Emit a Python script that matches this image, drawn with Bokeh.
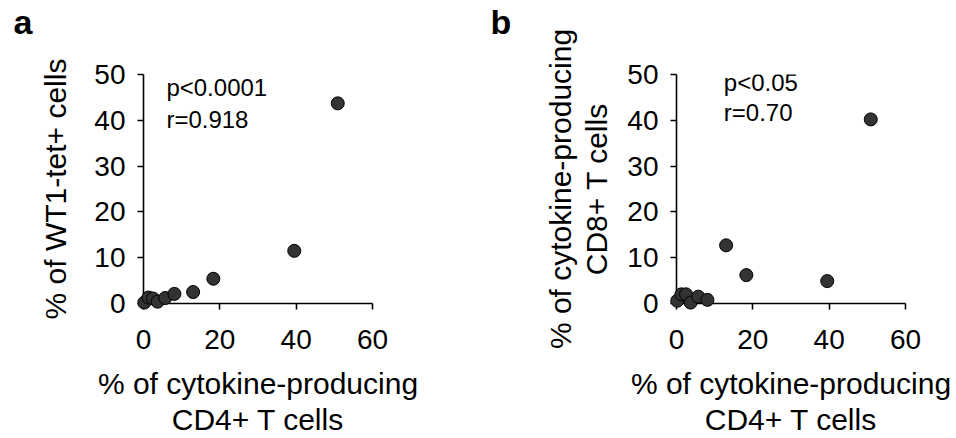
from bokeh.plotting import figure
from bokeh.layouts import row
from bokeh.models import FixedTicker, Label, Title
from bokeh.embed import file_html
from bokeh.resources import INLINE

# ---- data ----
cd4_pct = [0.2, 1.3, 2.5, 3.7, 5.7, 8.1, 13.0, 18.3, 39.5, 50.9]
wt1_tet_pct = [0.2, 1.3, 1.1, 0.4, 1.2, 2.1, 2.5, 5.4, 11.5, 43.7]
cd8_cyto_pct = [0.6, 2.0, 2.0, 0.2, 1.5, 0.8, 12.7, 6.2, 4.9, 40.2]

x_ticks = [0, 20, 40, 60]
y_ticks = [0, 10, 20, 30, 40, 50]

x_title = "% of cytokine-producing\nCD4+ T cells"
y_title_a = "% of WT1-tet+ cells"
y_title_b = "% of cytokine-producing\nCD8+ T cells"
stats_a = ["p<0.0001", "r=0.918"]
stats_b = ["p<0.05", "r=0.70"]

FONT = "Liberation Sans"
FRAME_W = 229
FRAME_H = 229


def make_panel(letter, xs, ys, ytitle, stats, stat_x, stat_y,
               left, right, letter_offset, ylabel_standoff):
    p = figure(x_range=(0, 60), y_range=(0, 50),
               frame_width=FRAME_W, frame_height=FRAME_H,
               min_border_left=left, min_border_right=right,
               min_border_top=72, min_border_bottom=137,
               output_backend="svg", toolbar_location=None,
               background_fill_color="white", border_fill_color="white")
    p.outline_line_color = None
    p.grid.visible = False

    # spacer between frame and the panel letter, then the letter itself
    p.add_layout(Title(text=" ", text_font=FONT, text_font_size="20px",
                       standoff=10), "above")
    p.add_layout(Title(text=letter, text_font=FONT, text_font_size="34px",
                       text_font_style="bold", text_color="black",
                       align="left", offset=letter_offset, standoff=0),
                 "above")

    for ax in (p.xaxis[0], p.yaxis[0]):
        ax.axis_line_width = 1.6
        ax.axis_line_color = "black"
        ax.major_tick_line_width = 1.6
        ax.major_tick_out = 6
        ax.major_tick_in = 0
        ax.minor_tick_line_color = None
        ax.major_label_text_font = FONT
        ax.major_label_text_font_size = "28px"
        ax.major_label_text_color = "black"
        ax.axis_label_text_font = FONT
        ax.axis_label_text_font_size = "30px"
        ax.axis_label_text_font_style = "normal"
        ax.axis_label_text_color = "black"
        ax.axis_label_text_line_height = 1.1

    p.xaxis.ticker = FixedTicker(ticks=x_ticks)
    p.yaxis.ticker = FixedTicker(ticks=y_ticks)
    p.xaxis.major_label_standoff = 20
    p.yaxis.major_label_standoff = 12
    p.xaxis.axis_label = x_title
    p.yaxis.axis_label = ytitle
    p.xaxis.axis_label_standoff = 15
    p.yaxis.axis_label_standoff = ylabel_standoff

    p.scatter(xs, ys, size=13, fill_color="#333333",
              line_color="black", line_width=1, level="overlay")

    for txt, yy in zip(stats, stat_y):
        p.add_layout(Label(x=stat_x, y=yy, text=txt, text_font=FONT,
                           text_font_size="24px", text_color="black",
                           text_baseline="alphabetic"))
    return p


pa = make_panel("a", cd4_pct, wt1_tet_pct, y_title_a, stats_a, 6.0,
                [47.2, 40.1], left=143, right=114, letter_offset=-130,
                ylabel_standoff=19)
pb = make_panel("b", cd4_pct, cd8_cyto_pct, y_title_b, stats_b, 12.4,
                [48.2, 41.6], left=190, right=50, letter_offset=-186,
                ylabel_standoff=11)

layout = row(pa, pb, spacing=0)

with open("out.html", "w") as f:
    f.write(file_html(layout, INLINE))
